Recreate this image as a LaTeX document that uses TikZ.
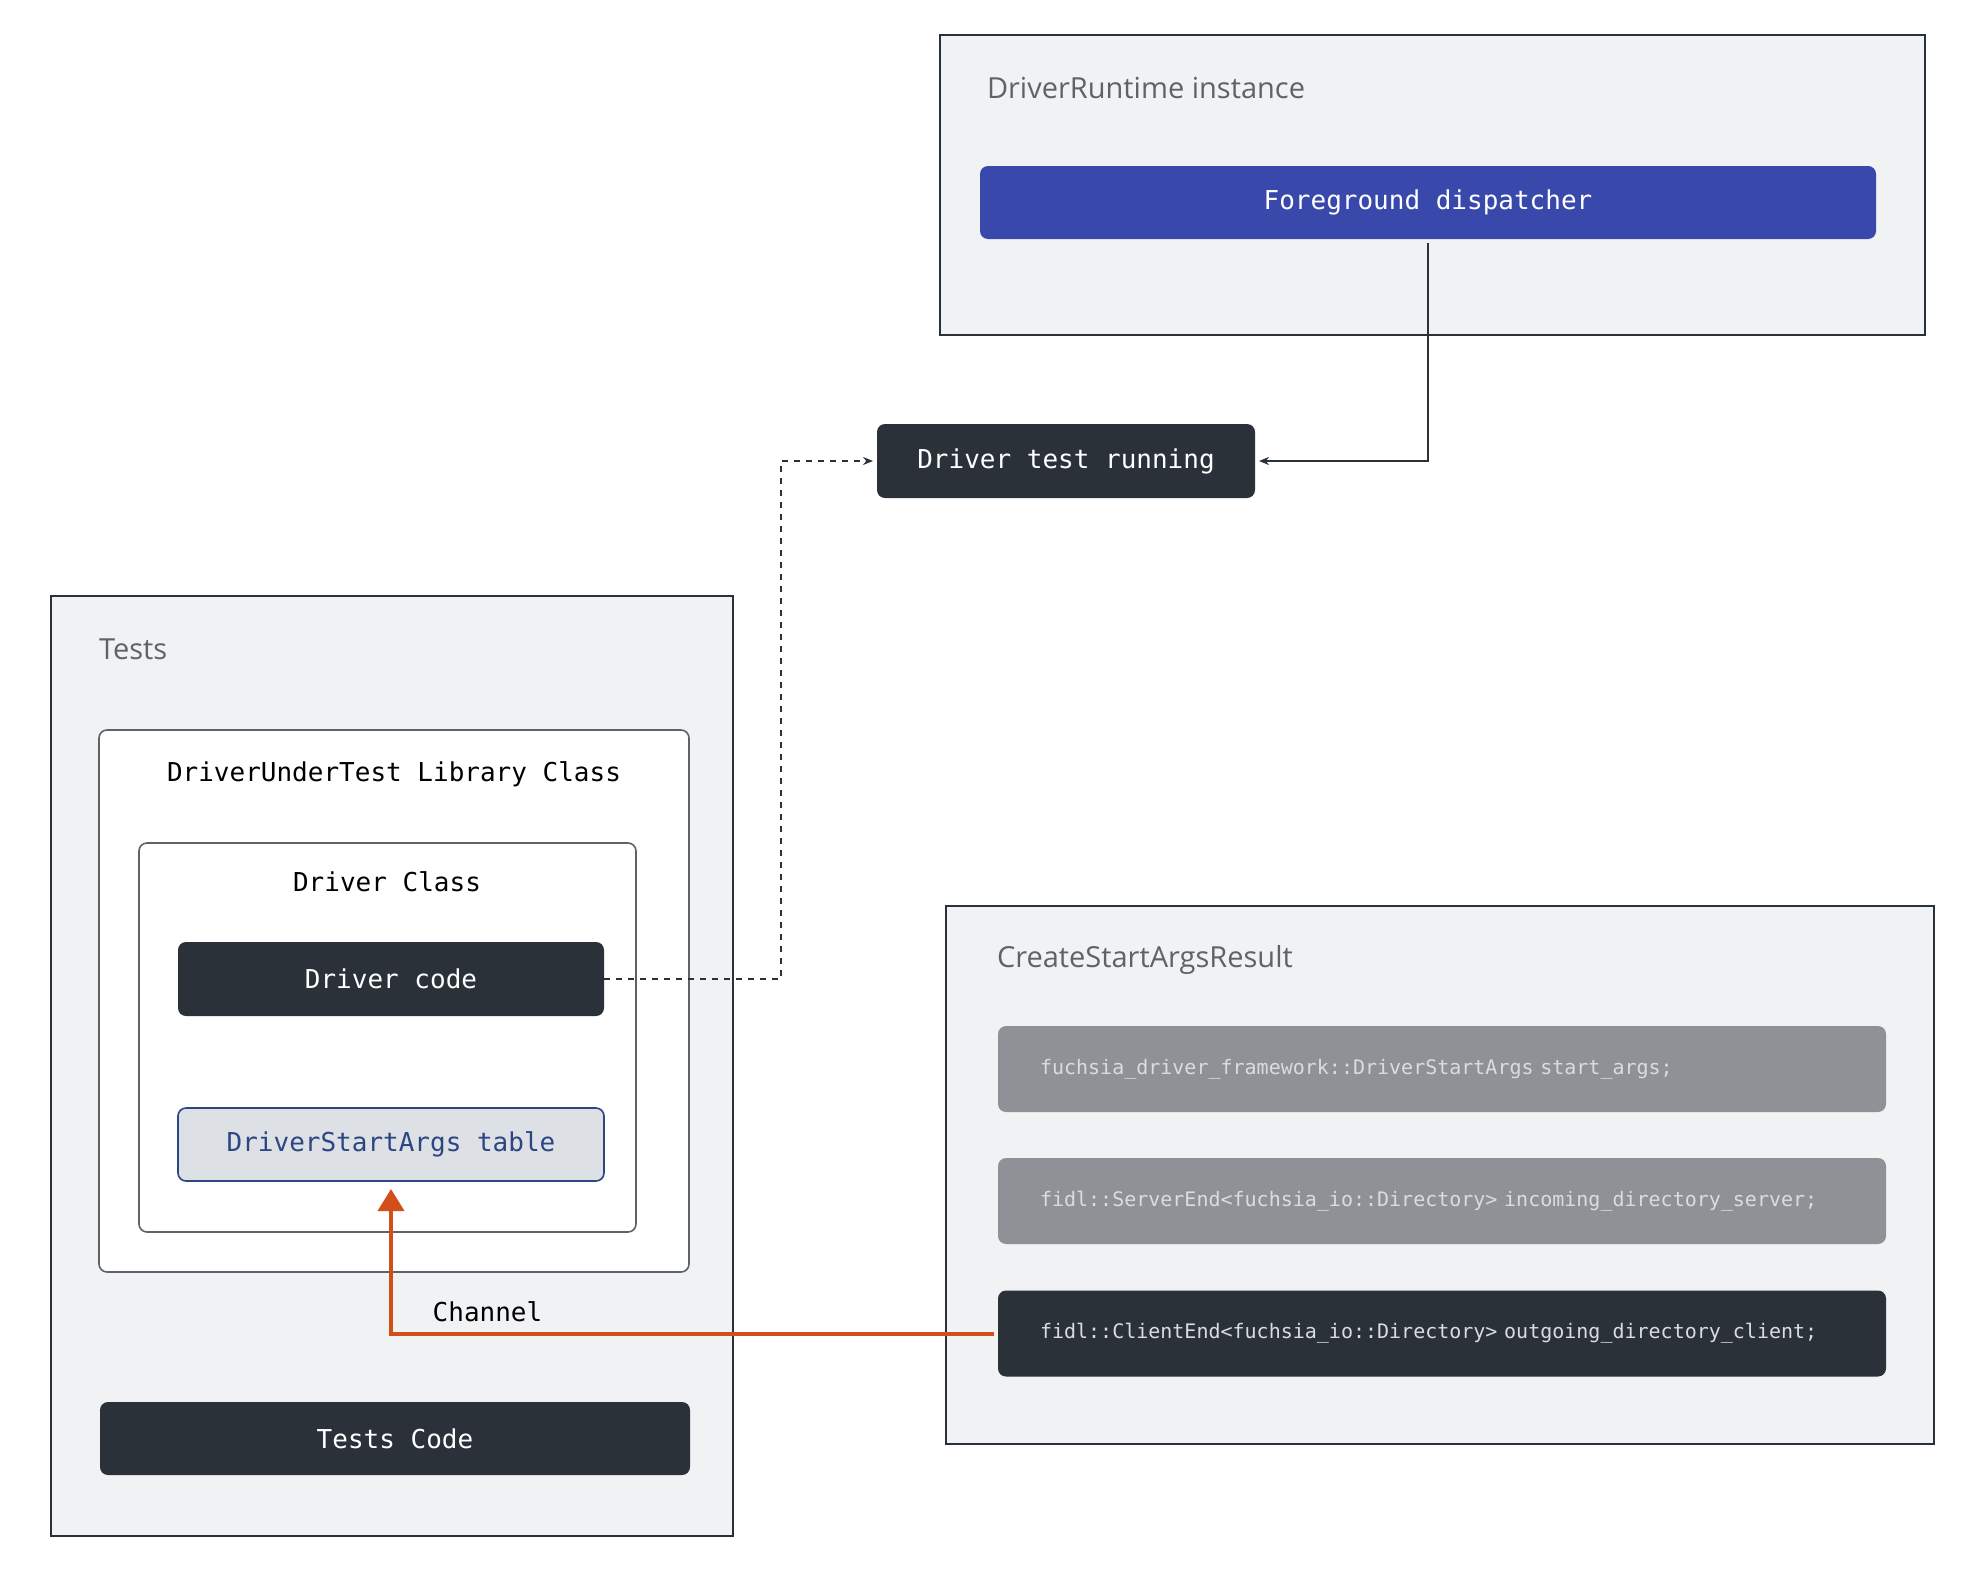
\documentclass[tikz,border=0pt]{standalone}
\usepackage{fontspec}
\setmainfont{Open Sans}
\setmonofont{DejaVu Sans Mono}[WordSpace={1,0,0}]
\usepackage{tikz}
\usetikzlibrary{arrows.meta,positioning}
\definecolor{mydark}{RGB}{42,49,57}
\definecolor{myblue}{RGB}{57,73,171}
\definecolor{mygray}{RGB}{142,146,150}
\definecolor{mylight}{RGB}{241,242,244}
\definecolor{mytable}{RGB}{221,224,228}
\definecolor{myline}{RGB}{44,70,132}
\definecolor{mylabel}{RGB}{95,99,104}
\definecolor{myorange}{RGB}{210,78,26}
\definecolor{mycode}{RGB}{218,221,224}

\begin{document}
\begin{tikzpicture}[x=0.5pt,y=-0.5pt,
    every node/.style={inner sep=0pt,outer sep=0pt},
    group/.style={draw=mydark,line width=1pt,fill=mylight,anchor=north west},
    grouplabel/.style={anchor=west,text=mylabel,font=\fontsize{14.5}{16}\selectfont},
    classbox/.style={draw=mylabel,line width=0.8pt,fill=white,rounded corners=4pt,anchor=north west},
    classlabel/.style={text=black,font=\ttfamily\fontsize{13}{15}\selectfont},
    darknode/.style={fill=mydark,rounded corners=4pt,text=white,font=\ttfamily\fontsize{13}{15}\selectfont},
    bluenode/.style={darknode,fill=myblue},
    tablenode/.style={draw=myline,line width=0.8pt,fill=mytable,rounded corners=4pt,text=myline,font=\ttfamily\fontsize{13}{15}\selectfont},
    argnode/.style={rounded corners=4pt,text width=402pt,align=left,inner xsep=21pt,minimum height=43pt,text=mycode,font=\ttfamily\fontsize{10}{12}\selectfont},
    arggray/.style={argnode,fill=mygray},
    argdark/.style={argnode,fill=mydark},
    link/.style={draw=mydark,line width=0.8pt,-{Stealth[length=5pt,width=4pt]},shorten >=2pt},
    dashlink/.style={link,line width=0.6pt,dashed},
    channel/.style={draw=myorange,line width=2pt,-{Triangle[length=11pt,width=13pt]}}
  ]
  \useasboundingbox (0,0) rectangle (1974,1568);

  % the runtime
  \node[group,minimum width=492.5pt,minimum height=150pt] (runtime) at (940,35) {};
  \node[grouplabel] (runtimelabel) at (987,88) {DriverRuntime instance};
  \node[bluenode,minimum width=448pt,minimum height=36.5pt] (fgdisp) at (1428,202.5) {Foreground dispatcher};
  \node[darknode,minimum width=189pt,minimum height=37pt] (running) at (1066,461) {Driver test running};

  % the tests
  \node[group,minimum width=341pt,minimum height=470pt] (tests) at (51,596) {};
  \node[grouplabel] (testslabel) at (99,649) {Tests};
  \node[classbox,minimum width=295pt,minimum height=271pt] (dut) at (99,730) {};
  \node[classlabel] (dutlabel) at (394,774) {DriverUnderTest Library Class};
  \node[classbox,minimum width=248.5pt,minimum height=194.5pt] (drvclass) at (139,843) {};
  \node[classlabel] (drvclasslabel) at (387,882) {Driver Class};
  \node[darknode,minimum width=213pt,minimum height=37pt] (drvcode) at (391,979) {Driver code};
  \node[tablenode,minimum width=213pt,minimum height=36.5pt] (startargs) at (391,1144.5) {DriverStartArgs table};
  \node[darknode,minimum width=295pt,minimum height=36.5pt] (testscode) at (395,1438.5) {Tests Code};

  % the start args result
  \node[group,minimum width=494pt,minimum height=269pt] (result) at (946,906) {};
  \node[grouplabel] (resultlabel) at (997,960) {CreateStartArgsResult};
  \node[arggray] (arg1) at (1442,1069) {fuchsia\_driver\_framework::DriverStartArgs start\_args;};
  \node[arggray] (arg2) at (1442,1201) {fidl::ServerEnd<fuchsia\_io::Directory> incoming\_directory\_server;};
  \node[argdark] (arg3) at (1442,1333.5) {fidl::ClientEnd<fuchsia\_io::Directory> outgoing\_directory\_client;};

  % the edges
  \draw[link] ([yshift=-2pt]fgdisp.south) |- (running.east);
  \draw[dashlink] (drvcode.east) -- ++(177,0) |- (running.west);
  \draw[channel] ([xshift=-2pt]arg3.west) -| node[classlabel,pos=0.42,above=6pt] (chanlabel) {Channel} ([yshift=-4pt]startargs.south);
\end{tikzpicture}
\end{document}
